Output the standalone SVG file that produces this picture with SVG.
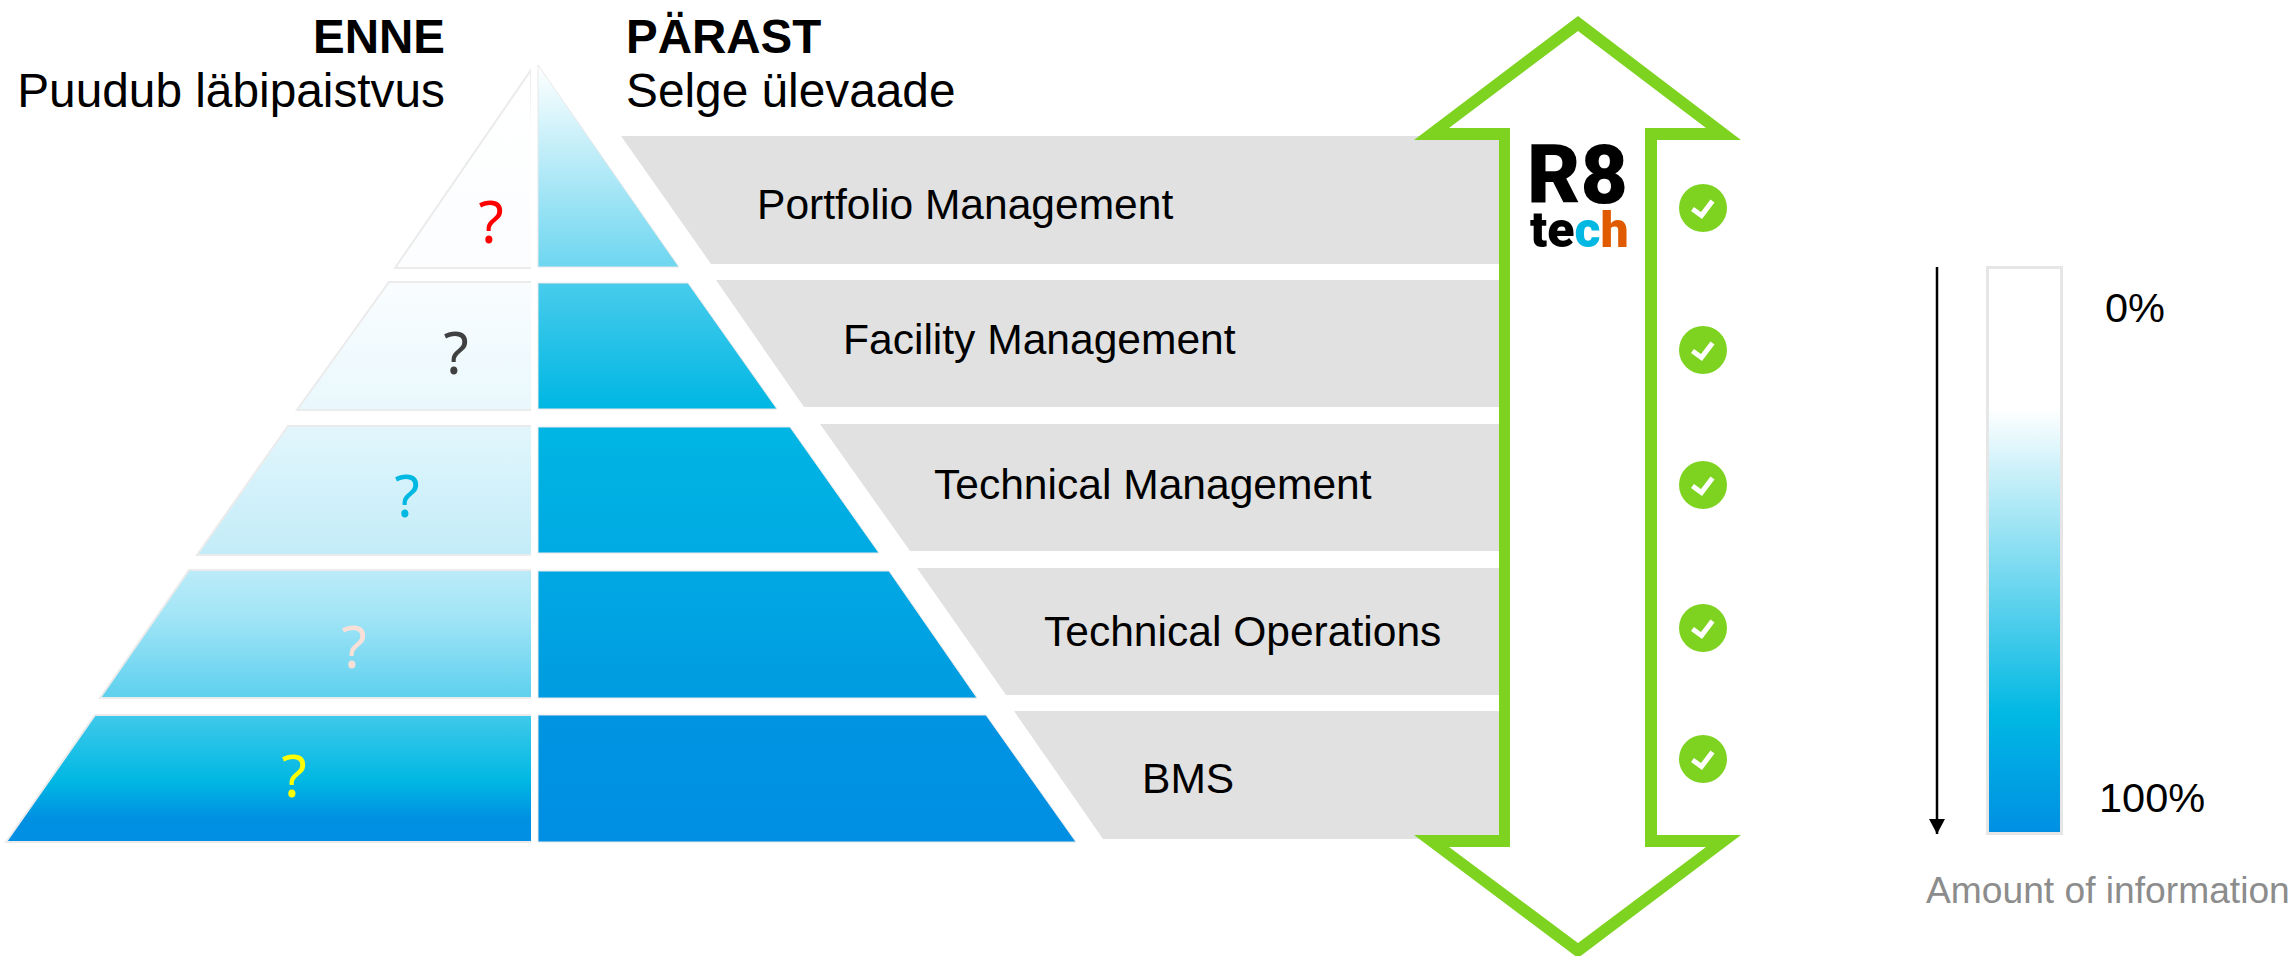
<svg xmlns="http://www.w3.org/2000/svg" width="2295" height="956" viewBox="0 0 2295 956">
<style>
text{font-family:"Liberation Sans",Arial,sans-serif;fill:#000}
.hd{font-size:47.8px}
.b{font-weight:700;font-size:47.5px}
.lb{font-size:42.55px}
.q{font-family:"Noto Sans","DejaVu Sans",sans-serif;font-size:58px;text-anchor:middle}
.band{fill:#e1e1e1}
.l{fill:url(#gl);stroke:#ebebeb;stroke-width:2}
.r{fill:url(#gr);stroke:#e8e8e8;stroke-width:1}
.pct{font-size:41.5px}
</style>
<defs>
<linearGradient id="gr" gradientUnits="userSpaceOnUse" x1="0" y1="65" x2="0" y2="842">
<stop offset="0" stop-color="#ffffff"/>
<stop offset="0.26" stop-color="#6dd6f0"/>
<stop offset="0.281" stop-color="#48ccec"/>
<stop offset="0.44" stop-color="#00b7e3"/>
<stop offset="0.63" stop-color="#00aae3"/>
<stop offset="0.815" stop-color="#009be1"/>
<stop offset="0.837" stop-color="#0094e2"/>
<stop offset="1" stop-color="#008fe3"/>
</linearGradient>
<linearGradient id="gl" gradientUnits="userSpaceOnUse" x1="0" y1="72" x2="0" y2="842">
<stop offset="0" stop-color="#ffffff"/>
<stop offset="0.256" stop-color="#fbfdfe"/>
<stop offset="0.44" stop-color="#e9f8fd"/>
<stop offset="0.46" stop-color="#e2f6fc"/>
<stop offset="0.627" stop-color="#c3ecf8"/>
<stop offset="0.646" stop-color="#bcebf8"/>
<stop offset="0.71" stop-color="#a0e4f6"/>
<stop offset="0.813" stop-color="#5dd0ee"/>
<stop offset="0.835" stop-color="#40c9ea"/>
<stop offset="0.92" stop-color="#00b8e3"/>
<stop offset="0.97" stop-color="#0090e2"/>
<stop offset="1" stop-color="#008fe3"/>
</linearGradient>
<linearGradient id="gb" x1="0" y1="0" x2="0" y2="1">
<stop offset="0" stop-color="#ffffff"/>
<stop offset="0.25" stop-color="#ffffff"/>
<stop offset="0.79" stop-color="#00b8e3"/>
<stop offset="1" stop-color="#008fe3"/>
</linearGradient>
<g id="chk"><circle r="24" fill="#7ed321"/><path d="M-10.5 1 L-1.5 7.5 L9.5 -7" fill="none" stroke="#fff" stroke-width="5"/></g>
<marker id="ah" markerUnits="userSpaceOnUse" markerWidth="16" markerHeight="16" refX="15" refY="8" orient="auto"><path d="M0 0 L15 8 L0 16 Z" fill="#000"/></marker>
</defs>

<g id="titles">
<text class="b" x="445" y="53" text-anchor="end">ENNE</text>
<text class="hd" x="445" y="107" text-anchor="end">Puudub läbipaistvus</text>
<text class="b" x="626" y="53">PÄRAST</text>
<text class="hd" x="626" y="107">Selge ülevaade</text>
</g>

<g id="pyramid-before">
<polygon class="l" points="531,70 534,268 395,268"/>
<polygon class="l" points="389,282 534,282 534,410 297,410"/>
<polygon class="l" points="288,426 534,426 534,555 197,555"/>
<polygon class="l" points="189,570 534,570 534,698 100,698"/>
<polygon class="l" points="95,715 534,715 534,842 6,842"/>
<rect x="531" y="60" width="7" height="790" fill="#fff"/>
<text class="q" x="491" y="243" style="fill:#ff0000">?</text>
<text class="q" x="456" y="374" style="fill:#404040">?</text>
<text class="q" x="407" y="517" style="fill:#00b8e2">?</text>
<text class="q" x="354" y="668" style="fill:#f8e0d8">?</text>
<text class="q" x="294" y="797" style="fill:#ffff00">?</text>
</g>

<g id="pyramid-after">
<polygon class="r" points="538,65 679,267 538,267"/>
<polygon class="r" points="538,283 688,283 777,409 538,409"/>
<polygon class="r" points="538,427 790,427 879,553 538,553"/>
<polygon class="r" points="538,571 889,571 977,698 538,698"/>
<polygon class="r" points="538,715 986,715 1076,842 538,842"/>
</g>

<g id="level-portfolio"><polygon class="band" points="621,136 1499,136 1499,264 711,264"/><text class="lb" x="757" y="219">Portfolio Management</text></g>
<g id="level-facility"><polygon class="band" points="716,280 1499,280 1499,407 804,407"/><text class="lb" x="843" y="354">Facility Management</text></g>
<g id="level-technical"><polygon class="band" points="820,424 1499,424 1499,551 910,551"/><text class="lb" x="934" y="499">Technical Management</text></g>
<g id="level-operations"><polygon class="band" points="917,568 1499,568 1499,695 1006,695"/><text class="lb" x="1044" y="646">Technical Operations</text></g>
<g id="level-bms"><polygon class="band" points="1014,711 1499,711 1499,839 1103,839"/><text class="lb" x="1142" y="793">BMS</text></g>

<g id="double-arrow">
<path fill="#7ed321" fill-rule="evenodd" d="M1578 16 L1741 140 H1657 V835 H1741 L1578 958 L1414 835 H1499 V140 H1414 Z M1578 31 L1449 128 H1510 V847 H1449 L1578 943 L1706 847 H1645 V128 H1706 Z"/>
</g>

<g id="logo">
<text x="1527" y="203" style="font-family:Roboto,sans-serif;font-weight:900;font-size:82px">R8</text>
<text x="1530" y="247" style="font-family:Roboto,sans-serif;font-weight:900;font-size:50px">te<tspan style="fill:#00b8e2">c</tspan><tspan style="fill:#e05a00">h</tspan></text>
</g>

<g id="checks">
<use href="#chk" x="1703" y="208"/>
<use href="#chk" x="1703" y="350"/>
<use href="#chk" x="1703" y="485"/>
<use href="#chk" x="1703" y="628"/>
<use href="#chk" x="1703" y="759"/>
</g>

<g id="connectors">
<line x1="1937" y1="267" x2="1937" y2="834" stroke="#000" stroke-width="2.5" marker-end="url(#ah)"/>
</g>

<g id="legend">
<rect x="1987.5" y="267.5" width="74" height="566" fill="url(#gb)" stroke="#e6e6e6" stroke-width="3"/>
<text class="pct" x="2105" y="322">0%</text>
<text class="pct" x="2099" y="812">100%</text>
<text x="1926" y="903" style="font-size:37.2px;fill:#8c8c8c">Amount of information</text>
</g>
</svg>
